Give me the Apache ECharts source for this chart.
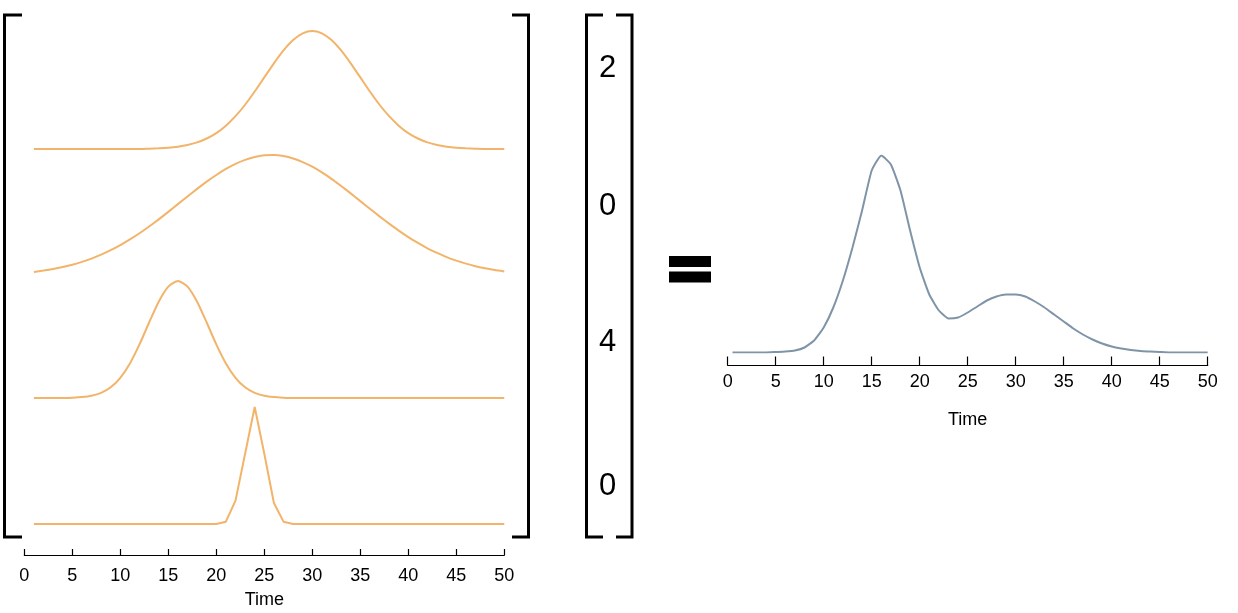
<!DOCTYPE html>
<html>
<head>
<meta charset="utf-8">
<script src="https://cdn.jsdelivr.net/npm/echarts@6/dist/echarts.min.js"></script>
<style>
  html, body { margin: 0; padding: 0; background: #fff; }
  #chart { width: 1238px; height: 613px; }
</style>
</head>
<body>
<div id="chart"></div>
<script>
///////////////////////////////////////////////////
// Data
///////////////////////////////////////////////////
// sample times of the four basis curves (left matrix)
var times = [1, 2, 3, 4, 5, 6, 7, 8, 9, 10, 11, 12, 13, 14, 15, 16, 17, 18, 19, 20,
  21, 22, 23, 24, 25, 26, 27, 28, 29, 30, 31, 32, 33, 34, 35, 36, 37, 38, 39, 40,
  41, 42, 43, 44, 45, 46, 47, 48, 49, 50];
// basis curves, each scaled to its own row (peak = 1)
var curve1 = [0, 0, 0, 0, 0, 0, 0, 0, 0, 0, 0, 0, 0.003, 0.006, 0.011, 0.02, 0.034, 0.056, 0.089, 0.135,
  0.198, 0.278, 0.375, 0.487, 0.607, 0.726, 0.835, 0.923, 0.98, 1, 0.98, 0.923, 0.835, 0.726, 0.607, 0.487, 0.375, 0.278, 0.198, 0.135,
  0.089, 0.056, 0.034, 0.02, 0.011, 0.006, 0.003, 0, 0, 0];
var curve2 = [0.034, 0.045, 0.058, 0.074, 0.093, 0.117, 0.144, 0.176, 0.213, 0.255, 0.302, 0.353, 0.409, 0.468, 0.53, 0.594, 0.657, 0.72, 0.78, 0.835,
  0.885, 0.927, 0.96, 0.984, 0.997, 1, 0.991, 0.971, 0.941, 0.903, 0.856, 0.803, 0.744, 0.683, 0.619, 0.556, 0.493, 0.433, 0.375, 0.322,
  0.273, 0.229, 0.191, 0.156, 0.127, 0.102, 0.081, 0.064, 0.049, 0.038];
var curve3 = [0, 0, 0, 0, 0.003, 0.008, 0.019, 0.044, 0.092, 0.173, 0.295, 0.458, 0.645, 0.823, 0.952, 1, 0.952, 0.823, 0.645, 0.458,
  0.295, 0.173, 0.092, 0.044, 0.019, 0.008, 0.003, 0, 0, 0, 0, 0, 0, 0, 0, 0, 0, 0, 0, 0,
  0, 0, 0, 0, 0, 0, 0, 0, 0, 0];
var curve4 = [0, 0, 0, 0, 0, 0, 0, 0, 0, 0, 0, 0, 0, 0, 0, 0, 0, 0, 0, 0,
  0.02, 0.2, 0.6, 1, 0.6, 0.18, 0.02, 0, 0, 0, 0, 0, 0, 0, 0, 0, 0, 0, 0, 0,
  0, 0, 0, 0, 0, 0, 0, 0, 0, 0];
// weights vector
var weights = ['2', '0', '4', '0'];
// weighted sum (right chart)
var sumTimes = [0.5, 1, 2, 3, 4, 5, 6, 7, 8, 9, 10, 11, 12, 13, 14, 15, 16, 17, 18, 19, 20,
  21, 22, 23, 24, 25, 26, 27, 28, 29, 30, 31, 32, 33, 34, 35, 36, 37, 38, 39, 40,
  41, 42, 43, 44, 45, 46, 47, 48, 49, 50];
var sumValues = [0, 0, 0, 0, 0, 0.5, 1, 2, 5, 12, 25, 45, 72, 105, 142, 182, 197, 188, 162, 122, 85,
  58, 42, 34, 35, 40, 46, 52, 56, 58, 58, 56, 51, 45, 38, 31, 24, 18, 13, 9, 6,
  4, 2.5, 1.5, 1, 0.5, 0, 0, 0, 0, 0];

///////////////////////////////////////////////////
// Helpers
///////////////////////////////////////////////////
function zip(xs, ys) {
  return xs.map(function (x, i) { return [x, ys[i]]; });
}
var FONT = '"Liberation Sans", Arial, sans-serif';
var ORANGE = '#f2b46a';
var BLUE = '#7f94a7';

function hiddenX(gridIndex) {
  return { type: 'value', gridIndex: gridIndex, min: 0, max: 50, show: false, splitLine: { show: false } };
}
function timeAxis(gridIndex, offset, tickLen, labelMargin, nameGap) {
  return {
    type: 'value', gridIndex: gridIndex, min: 0, max: 50, interval: 5, offset: offset,
    name: 'Time', nameLocation: 'middle', nameGap: nameGap,
    nameTextStyle: { color: '#000', fontSize: 18, fontFamily: FONT },
    axisLine: { show: true, onZero: false, lineStyle: { color: '#000', width: 1.2 } },
    axisTick: { show: true, inside: true, length: tickLen, lineStyle: { color: '#000', width: 1.2 } },
    axisLabel: { color: '#000', fontSize: 18, fontFamily: FONT, margin: labelMargin },
    splitLine: { show: false }
  };
}
function hiddenY(gridIndex, max) {
  return { type: 'value', gridIndex: gridIndex, min: 0, max: max, show: false, splitLine: { show: false } };
}
function line(index, data, color, smooth) {
  return {
    type: 'line', xAxisIndex: index, yAxisIndex: index, data: data,
    symbol: 'none', smooth: smooth, silent: true,
    lineStyle: { color: color, width: 2 }
  };
}
function bracket(points) {
  return { type: 'polyline', shape: { points: points }, style: { stroke: '#000', lineWidth: 3, fill: null } };
}
function weightText(text, y) {
  return {
    type: 'text', x: 607.5, y: y,
    style: { text: text, fill: '#000', fontSize: 31, fontFamily: FONT, align: 'center', verticalAlign: 'middle' }
  };
}

///////////////////////////////////////////////////
// Chart
///////////////////////////////////////////////////
var myChart = echarts.init(document.getElementById('chart'), null, { renderer: 'canvas' });

var option = {
  animation: false,
  backgroundColor: '#fff',
  grid: [
    { left: 24.3, top: 31, width: 480, height: 118 },
    { left: 24.3, top: 155, width: 480, height: 121 },
    { left: 24.3, top: 281, width: 480, height: 117 },
    { left: 24.3, top: 407, width: 480, height: 117 },
    { left: 727.7, top: 155.5, width: 480, height: 197 }
  ],
  xAxis: [
    hiddenX(0), hiddenX(1), hiddenX(2),
    timeAxis(3, 31, 6, 12, 36),
    timeAxis(4, 13, 9, 8, 46)
  ],
  yAxis: [hiddenY(0, 1), hiddenY(1, 1), hiddenY(2, 1), hiddenY(3, 1), hiddenY(4, 197)],
  series: [
    line(0, zip(times, curve1), ORANGE, 0.2),
    line(1, zip(times, curve2), ORANGE, 0.2),
    line(2, zip(times, curve3), ORANGE, 0.2),
    line(3, zip(times, curve4), ORANGE, false),
    line(4, zip(sumTimes, sumValues), BLUE, 0.15)
  ],
  graphic: [
    // matrix brackets
    bracket([[22, 15], [4.5, 15], [4.5, 537], [22, 537]]),
    bracket([[512, 15], [528.5, 15], [528.5, 537], [512, 537]]),
    // vector brackets
    bracket([[603, 15], [586.5, 15], [586.5, 537], [603, 537]]),
    bracket([[616, 15], [632, 15], [632, 537], [616, 537]]),
    weightText(weights[0], 68),
    weightText(weights[1], 206),
    weightText(weights[2], 342),
    weightText(weights[3], 486),
    // equals sign
    { type: 'rect', shape: { x: 669, y: 256, width: 42, height: 11 }, style: { fill: '#000' } },
    { type: 'rect', shape: { x: 669, y: 271.5, width: 42, height: 11 }, style: { fill: '#000' } }
  ]
};

myChart.setOption(option);
</script>
</body>
</html>
